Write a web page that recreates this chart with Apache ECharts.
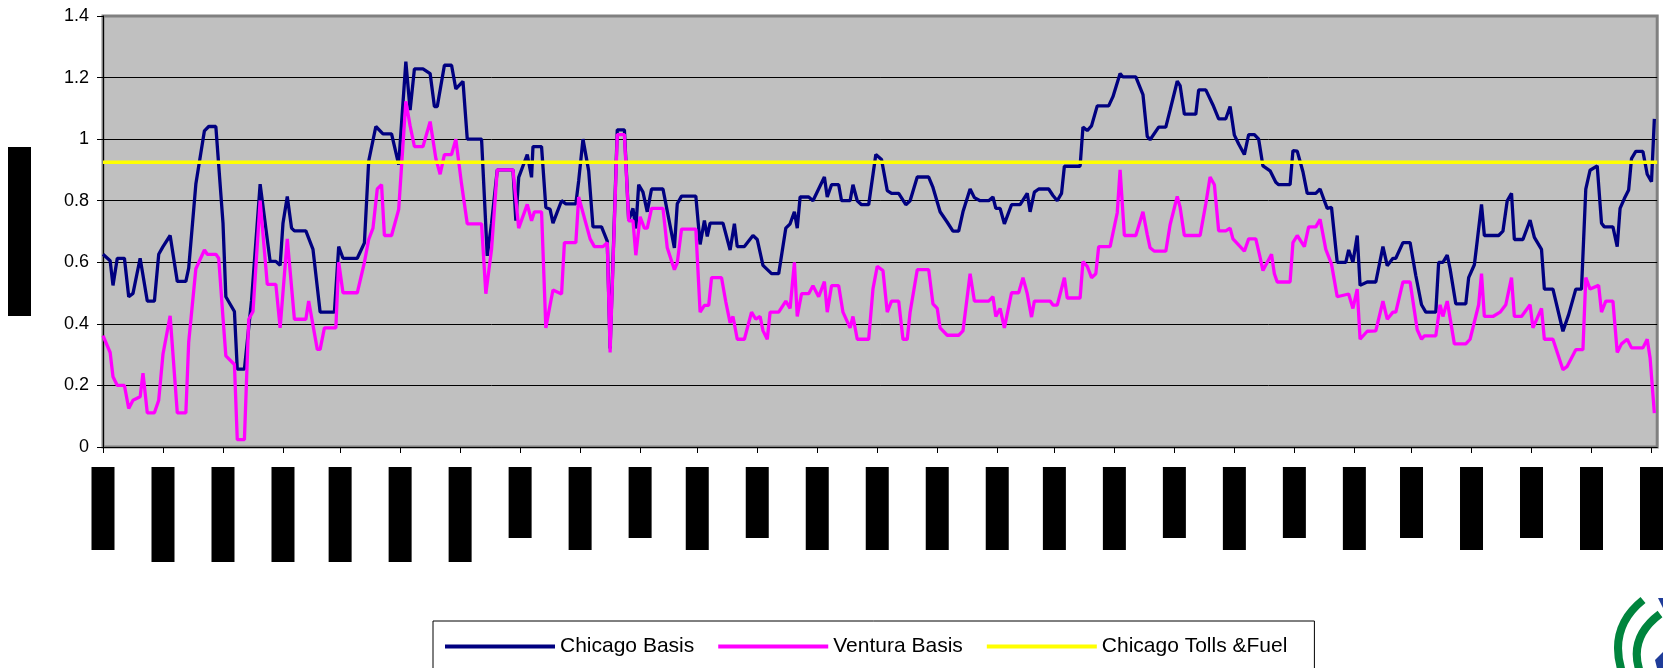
<!DOCTYPE html>
<html>
<head>
<meta charset="utf-8">
<title>Chicago vs Ventura Basis</title>
<script src="https://cdn.jsdelivr.net/npm/echarts@6/dist/echarts.min.js"></script>
<style>
  html, body { margin: 0; padding: 0; background: #fff; }
  #chart { width: 1663px; height: 668px; }
</style>
</head>
<body>
<div id="chart"></div>
<script>
// trading-day index (x) and basis in $/MMBtu (y)
const chicagoDays = [0,5,7,10,15,18,21,26,31,36,39,42,47,52,58,60,65,71,74,79,84,86,92,94,99,104,110,117,121,124,126,129,132,134,142,147,152,162,165,168,178,183,186,191,196,202,207,212,215,218,224,229,232,234,239,244,247,252,255,265,269,272,276,287,289,291,297,300,301,307,310,313,315,321,324,331,333,336,340,343,349,353,355,360,365,368,371,373,375,378,381,384,392,400,402,405,415,418,421,423,425,434,439,442,444,449,455,458,462,468,473,478,481,484,486,488,494,497,505,507,510,515,517,523,525,528,531,536,541,545,549,552,557,562,565,570,578,581,586,591,595,599,602,607,610,614,620,623,625,628,631,636,642,647,649,652,655,662,665,668,671,673,684,686,689,692,696,704,707,712,714,723,728,731,733,739,744,747,752,754,757,765,767,772,777,781,786,789,792,795,799,802,806,809,812,817,821,823,831,833,836,840,843,849,852,855,857,860,864,870,872,875,878,880,885,891,896,899,903,905,910,915,919,923,926,933,935,938,941,943,947,954,956,960,962,965,967,977,980,983,986,988,994,999,1002,1007,1009,1015,1022,1026,1031,1035,1038,1041,1046,1049,1051,1057,1060,1062,1065,1068,1070,1073,1078,1081,1084,1086];
const chicagoBasis = [0.626,0.605,0.525,0.613,0.613,0.488,0.499,0.613,0.474,0.474,0.626,0.651,0.687,0.538,0.538,0.581,0.854,1.027,1.041,1.041,0.727,0.488,0.44,0.253,0.253,0.477,0.854,0.603,0.603,0.59,0.727,0.814,0.711,0.702,0.702,0.642,0.438,0.438,0.651,0.613,0.613,0.663,0.929,1.041,1.017,1.017,0.917,1.252,1.094,1.228,1.228,1.213,1.106,1.106,1.24,1.24,1.163,1.188,1.0,1.0,0.621,0.727,0.9,0.9,0.735,0.876,0.95,0.876,0.976,0.976,0.778,0.772,0.727,0.8,0.79,0.79,0.865,1.0,0.897,0.715,0.715,0.669,0.32,1.03,1.03,0.736,0.775,0.71,0.852,0.828,0.764,0.838,0.838,0.647,0.79,0.815,0.815,0.658,0.736,0.684,0.727,0.727,0.64,0.725,0.651,0.651,0.687,0.674,0.59,0.563,0.563,0.711,0.725,0.764,0.711,0.812,0.812,0.8,0.877,0.812,0.852,0.852,0.8,0.8,0.852,0.8,0.787,0.787,0.95,0.934,0.833,0.824,0.824,0.787,0.8,0.877,0.877,0.843,0.764,0.73,0.701,0.701,0.764,0.838,0.81,0.8,0.8,0.812,0.775,0.775,0.725,0.787,0.787,0.824,0.764,0.828,0.838,0.838,0.817,0.8,0.824,0.912,0.912,1.039,1.028,1.043,1.108,1.108,1.138,1.213,1.202,1.202,1.145,1.009,0.998,1.039,1.039,1.094,1.188,1.174,1.081,1.081,1.16,1.16,1.111,1.066,1.066,1.106,1.013,0.984,0.95,1.015,1.015,1.0,0.913,0.897,0.86,0.852,0.852,0.963,0.961,0.894,0.824,0.824,0.838,0.8,0.775,0.778,0.6,0.6,0.64,0.6,0.687,0.525,0.536,0.536,0.651,0.589,0.613,0.613,0.664,0.664,0.557,0.462,0.438,0.438,0.6,0.6,0.623,0.579,0.465,0.465,0.55,0.592,0.669,0.788,0.687,0.687,0.701,0.8,0.824,0.674,0.674,0.737,0.681,0.642,0.513,0.513,0.376,0.43,0.513,0.513,0.838,0.899,0.913,0.727,0.715,0.715,0.651,0.775,0.807,0.835,0.937,0.96,0.96,0.886,0.862,1.066];

const venturaDays = [0,5,7,10,15,18,21,26,28,31,36,39,42,47,52,58,60,65,71,73,79,81,84,86,92,94,99,102,105,110,115,121,124,129,134,142,144,150,152,155,163,165,168,178,183,186,189,192,195,197,202,207,212,215,218,224,229,233,236,239,244,247,251,255,265,268,272,276,287,291,297,300,302,307,310,313,315,321,323,331,333,341,344,350,353,355,360,365,368,371,373,376,379,381,384,392,395,400,402,405,415,418,421,424,426,433,436,439,441,444,449,454,457,460,462,465,467,473,478,481,484,486,489,494,497,501,505,507,510,515,518,523,525,528,536,539,542,546,549,552,557,560,563,565,570,578,581,584,586,591,599,602,607,610,620,623,625,628,631,636,641,644,647,650,652,663,665,668,673,675,684,686,689,692,695,697,705,710,712,715,723,728,731,733,736,744,747,752,754,757,768,772,775,778,781,786,789,791,799,802,807,810,812,818,820,822,831,833,836,841,844,849,852,856,860,864,872,875,878,880,885,891,896,899,903,905,910,915,920,923,925,933,936,938,941,946,954,957,963,965,967,973,978,982,986,988,993,999,1001,1007,1009,1015,1022,1025,1031,1036,1038,1041,1047,1049,1052,1057,1060,1063,1067,1070,1078,1081,1083,1086];
const venturaBasis = [0.362,0.307,0.228,0.2,0.2,0.125,0.152,0.163,0.24,0.111,0.111,0.152,0.302,0.426,0.111,0.111,0.341,0.579,0.64,0.626,0.626,0.613,0.42,0.296,0.268,0.024,0.024,0.415,0.44,0.8,0.528,0.528,0.387,0.676,0.415,0.415,0.474,0.317,0.317,0.387,0.387,0.6,0.501,0.501,0.6,0.674,0.711,0.838,0.852,0.687,0.687,0.772,1.123,1.043,0.976,0.976,1.057,0.937,0.886,0.95,0.95,1.0,0.854,0.725,0.725,0.498,0.642,0.9,0.9,0.711,0.788,0.735,0.764,0.764,0.387,0.462,0.51,0.497,0.664,0.664,0.812,0.676,0.651,0.651,0.664,0.307,1.015,1.015,0.735,0.735,0.623,0.748,0.711,0.711,0.775,0.775,0.647,0.576,0.598,0.708,0.708,0.438,0.46,0.46,0.55,0.55,0.471,0.403,0.424,0.35,0.35,0.438,0.415,0.424,0.378,0.35,0.438,0.438,0.474,0.45,0.6,0.424,0.498,0.498,0.524,0.488,0.537,0.438,0.524,0.524,0.438,0.387,0.424,0.35,0.35,0.513,0.587,0.573,0.438,0.474,0.474,0.35,0.35,0.438,0.576,0.576,0.465,0.45,0.387,0.363,0.363,0.377,0.563,0.474,0.474,0.488,0.424,0.45,0.387,0.501,0.501,0.55,0.498,0.422,0.474,0.474,0.461,0.461,0.55,0.484,0.484,0.602,0.587,0.55,0.563,0.651,0.651,0.761,0.9,0.687,0.687,0.764,0.69,0.647,0.636,0.636,0.722,0.814,0.779,0.687,0.687,0.79,0.877,0.852,0.702,0.702,0.711,0.676,0.636,0.676,0.676,0.616,0.573,0.626,0.563,0.536,0.536,0.664,0.687,0.651,0.715,0.715,0.74,0.642,0.594,0.488,0.497,0.45,0.513,0.35,0.376,0.377,0.474,0.415,0.438,0.438,0.536,0.536,0.381,0.35,0.361,0.361,0.462,0.424,0.474,0.335,0.335,0.35,0.462,0.563,0.424,0.424,0.438,0.462,0.55,0.424,0.424,0.462,0.387,0.45,0.35,0.35,0.251,0.262,0.316,0.316,0.55,0.513,0.525,0.438,0.474,0.474,0.307,0.335,0.35,0.322,0.322,0.35,0.29,0.11];

const tollsFuel = 0.925;
const lastDay = 1088;

const tickDays = [0,42,84,126,166,208,250,292,334,376,416,458,500,542,584,626,666,708,750,792,834,876,916,958,1000,1042,1084];
const tickLabels = ['7/1/2002','9/3/2002','11/1/2002','1/2/2003','3/3/2003','5/1/2003','7/1/2003','9/2/2003','11/3/2003','1/2/2004','3/1/2004','5/3/2004','7/1/2004','9/1/2004','11/1/2004','1/3/2005','3/1/2005','5/2/2005','7/1/2005','9/1/2005','11/1/2005','1/3/2006','3/1/2006','5/1/2006','7/3/2006','9/1/2006','11/1/2006'];

// the date labels are blacked out in the source; box length per label
const boxKind = 'MLLLLLLSMSMSMMMMMMSMSMSMSMM';
const boxLen = { S: 71, M: 83, L: 95 };

const chart = echarts.init(document.getElementById('chart'));

const rich = {};
Object.keys(boxLen).forEach(k => {
  rich[k] = {
    backgroundColor: '#000', color: '#000', fontSize: 10,
    width: boxLen[k], height: 23, lineHeight: 23, align: 'center'
  };
});

const option = {
  animation: false,
  backgroundColor: '#fff',
  textStyle: { fontFamily: 'Liberation Sans, Arial, sans-serif' },
  grid: {
    left: 103, right: 1, top: 16, bottom: 221,
    show: true, backgroundColor: '#C0C0C0',
    borderColor: '#808080', borderWidth: 3
  },
  legend: {
    left: 433, top: 621,
    orient: 'horizontal',
    icon: 'rect', itemWidth: 110, itemHeight: 4, itemGap: 24,
    padding: [15, 27, 15, 12],
    borderColor: '#000', borderWidth: 1,
    textStyle: { fontSize: 21, color: '#000' },
    data: ['Chicago Basis', 'Ventura Basis', 'Chicago Tolls &Fuel']
  },
  xAxis: {
    type: 'value', min: 0, max: lastDay,
    splitLine: { show: false },
    axisLine: { show: true, onZero: false, lineStyle: { color: '#000', width: 1 } },
    axisTick: { show: true, customValues: tickDays, length: 6, lineStyle: { color: '#000' } },
    axisLabel: {
      customValues: tickDays,
      rotate: 90, margin: 20,
      formatter: v => {
        const i = tickDays.indexOf(v);
        return '{' + boxKind[i] + '|' + tickLabels[i] + '}';
      },
      rich: rich
    }
  },
  yAxis: {
    type: 'value', min: 0, max: 1.4, interval: 0.2,
    name: '{t|$/MMBtu}',
    nameLocation: 'middle', nameRotate: 90, nameGap: 72,
    nameTextStyle: {
      rich: { t: { backgroundColor: '#000', color: '#000', fontSize: 10, width: 169, height: 23, lineHeight: 23, align: 'center' } }
    },
    axisLine: { show: true, lineStyle: { color: '#000', width: 1 } },
    axisTick: { show: true, length: 6, lineStyle: { color: '#000' } },
    axisLabel: { color: '#000', fontSize: 18, margin: 14 },
    splitLine: { show: true, showMaxLine: false, lineStyle: { color: '#000', width: 1 } }
  },
  series: [
    {
      name: 'Chicago Basis', type: 'line', showSymbol: false, symbol: 'none',
      color: '#000080', lineStyle: { width: 3.3, color: '#000080' },
      data: chicagoDays.map((d, i) => [d, chicagoBasis[i]])
    },
    {
      name: 'Ventura Basis', type: 'line', showSymbol: false, symbol: 'none',
      color: '#FF00FF', lineStyle: { width: 3.3, color: '#FF00FF' },
      data: venturaDays.map((d, i) => [d, venturaBasis[i]])
    },
    {
      name: 'Chicago Tolls &Fuel', type: 'line', showSymbol: false, symbol: 'none',
      color: '#FFFF00', lineStyle: { width: 3.5, color: '#FFFF00' },
      data: [[0, tollsFuel], [lastDay, tollsFuel]]
    }
  ],
  graphic: [
    { type: 'bezierCurve', shape: { x1: 1643, y1: 600, cpx1: 1608, cpy1: 628, x2: 1622, y2: 672 },
      style: { stroke: '#00843D', lineWidth: 8, fill: null } },
    { type: 'bezierCurve', shape: { x1: 1660, y1: 614, cpx1: 1628, cpy1: 638, x2: 1640, y2: 672 },
      style: { stroke: '#00843D', lineWidth: 8, fill: null } },
    { type: 'polygon', shape: { points: [[1658, 598], [1663, 598], [1663, 608]] }, style: { fill: '#1F3C99' } },
    { type: 'polygon', shape: { points: [[1655, 660], [1663, 652], [1663, 668], [1657, 668]] }, style: { fill: '#1F3C99' } }
  ]
};

chart.setOption(option);
</script>
</body>
</html>
